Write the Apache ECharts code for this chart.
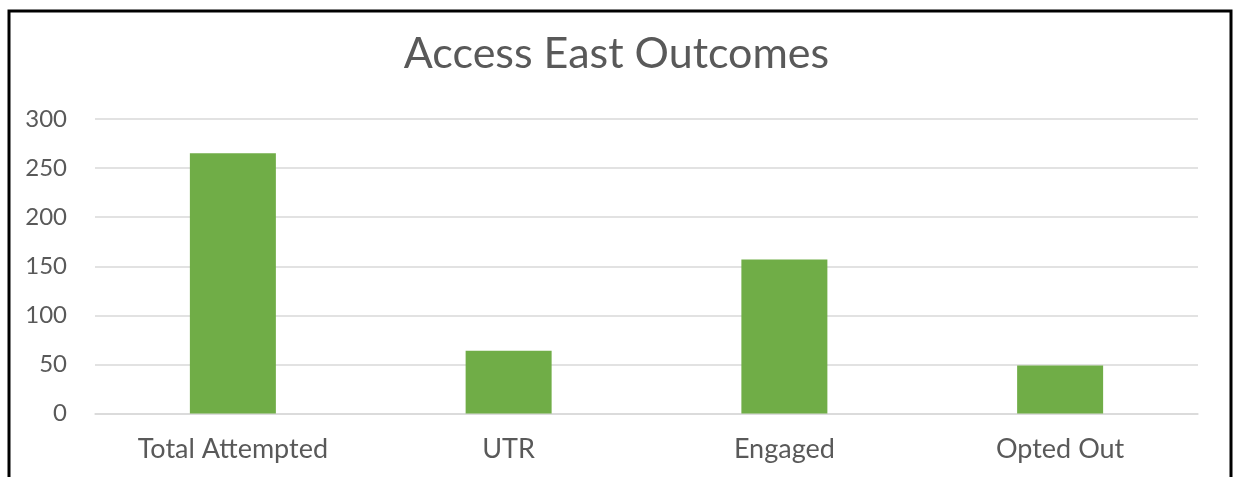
<!DOCTYPE html>
<html>
<head>
<meta charset="utf-8">
<script src="https://cdn.jsdelivr.net/npm/echarts@6/dist/echarts.min.js"></script>
<style>
  html, body { margin: 0; padding: 0; background: #fff; }
  #chart { width: 1233px; height: 477px; }
</style>
</head>
<body>
<div id="chart"></div>
<script>
  // 数据
  var categories = ['Total Attempted', 'UTR', 'Engaged', 'Opted Out'];
  var outcomeValues = [265, 64, 157, 49];
  var yTicks = [0, 50, 100, 150, 200, 250, 300];

  var chart = echarts.init(document.getElementById('chart'));
  var textColor = '#595959';
  var fontName = 'Lato';

  var option = {
    animation: false,
    title: {
      text: 'Access East Outcomes',
      left: 'center',
      top: 28,
      textStyle: { color: textColor, fontFamily: fontName, fontSize: 43, fontWeight: 'normal' }
    },
    graphic: [
      {
        type: 'rect',
        shape: { x: 9, y: 11, width: 1222, height: 500 },
        style: { fill: 'none', stroke: '#000', lineWidth: 3 },
        silent: true
      }
    ],
    grid: { left: 95, right: 35, top: 119, bottom: 63.5 },
    xAxis: {
      type: 'category',
      data: categories,
      axisLine: { show: true, lineStyle: { color: '#d9d9d9', width: 1.5 } },
      axisTick: { show: false },
      axisLabel: { color: textColor, fontFamily: fontName, fontSize: 27, margin: 22 }
    },
    yAxis: {
      type: 'value',
      min: yTicks[0],
      max: yTicks[yTicks.length - 1],
      interval: 50,
      axisLine: { show: false },
      axisTick: { show: false },
      splitLine: { lineStyle: { color: '#d9d9d9', width: 1.5 } },
      axisLabel: { color: textColor, fontFamily: fontName, fontSize: 24, margin: 28 }
    },
    series: [
      {
        name: 'Outcomes',
        type: 'bar',
        data: outcomeValues,
        barWidth: 86,
        itemStyle: { color: '#70ad47' }
      }
    ]
  };

  chart.setOption(option);
</script>
</body>
</html>
